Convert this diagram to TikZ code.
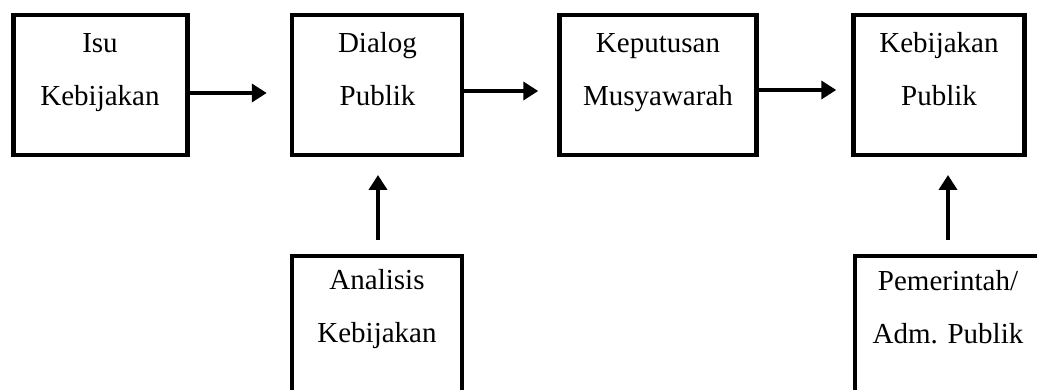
\documentclass[tikz,border=0pt]{standalone}
\usepackage{fontspec}
\setmainfont{Liberation Serif}
\usetikzlibrary{arrows.meta}
\begin{document}
\begin{tikzpicture}[x=1pt,y=-1pt,
  box/.style={draw=black,line width=4.5pt,rectangle,inner sep=0pt,
    minimum height=140pt},
  lbl/.style={anchor=base,text width=200pt,align=center,inner sep=0pt,
    font=\fontsize{29pt}{53pt}\selectfont},
  flow/.style={line width=4.5pt,-{Triangle[length=15pt,width=18pt]}}]
\useasboundingbox (0,0) rectangle (1037,390);
\clip (0,0) rectangle (1037,390);

% main row
\node[box,minimum width=174pt] (isu) at (100.5,85) {};
\node[box,minimum width=170pt] (dialog) at (377,85) {};
\node[box,minimum width=197pt] (keputusan) at (658,85) {};
\node[box,minimum width=171pt] (kebijakan) at (939,85) {};

% supporting inputs
\node[box,minimum width=170pt,anchor=north] (analisis) at (377,254) {};
\node[box,minimum width=191pt,anchor=north west] (pemerintah) at (852.5,254) {};

% labels
\node[lbl] (tisu) at (100,53) {Isu\\Kebijakan};
\node[lbl] (tdialog) at (377.5,53) {Dialog\\Publik};
\node[lbl] (tkeputusan) at (658,53) {Keputusan\\Musyawarah};
\node[lbl] (tkebijakan) at (939,53) {Kebijakan\\Publik};
\node[lbl] (tanalisis) at (377,290) {Analisis\\Kebijakan};
\node[lbl] (tpemerintah) at (948,291) {Pemerintah/\\Adm.\ Publik};

% arrow end points
\coordinate (e1) at ([xshift=-23pt]dialog.west |- 0,93);
\coordinate (e2) at ([xshift=-19pt]keputusan.west |- 0,91);
\coordinate (e3) at ([xshift=-15pt]kebijakan.west |- 0,90);
\coordinate (s5) at (378,240);
\coordinate (e5) at (378,175);
\coordinate (s6) at (948,240);
\coordinate (e6) at (948,175);

\draw[flow] (isu.east |- e1) -- (e1);
\draw[flow] (dialog.east |- e2) -- (e2);
\draw[flow] (keputusan.east |- e3) -- (e3);
\draw[flow] (s5) -- (e5);
\draw[flow] (s6) -- (e6);
\end{tikzpicture}
\end{document}
